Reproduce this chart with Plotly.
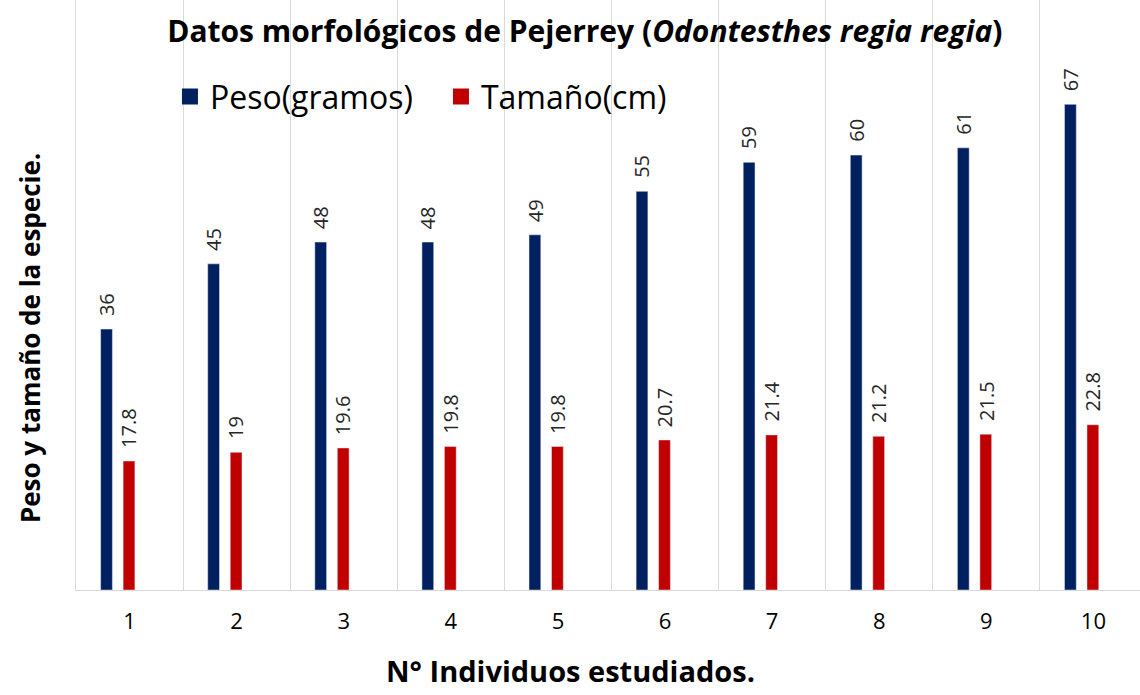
import plotly.graph_objects as go

individuos = ["1", "2", "3", "4", "5", "6", "7", "8", "9", "10"]
peso = [36, 45, 48, 48, 49, 55, 59, 60, 61, 67]
tamano = [17.8, 19, 19.6, 19.8, 19.8, 20.7, 21.4, 21.2, 21.5, 22.8]

FONT = "Open Sans"
BLUE = "#002060"
RED = "#C00000"
BAR_W = 0.11
OFF_PESO = -0.27
OFF_TAM = -0.06

fig = go.Figure()
fig.add_trace(go.Bar(
    x=individuos, y=peso, name="Peso(gramos)", showlegend=False,
    marker=dict(color=BLUE), width=BAR_W, offset=OFF_PESO,
))
fig.add_trace(go.Bar(
    x=individuos, y=tamano, name="Tamaño(cm)", showlegend=False,
    marker=dict(color=RED), width=BAR_W, offset=OFF_TAM,
))
# legend entries (square symbols)
for name, col in [("Peso(gramos)", BLUE), ("Tamaño(cm)", RED)]:
    fig.add_trace(go.Scatter(
        x=[None], y=[None], mode="markers", name=name,
        marker=dict(symbol="square", size=16, color=col),
    ))

annotations = []
for vals, off in [(peso, OFF_PESO), (tamano, OFF_TAM)]:
    for i, v in enumerate(vals):
        annotations.append(dict(
            x=i + off + BAR_W / 2, y=v, xref="x", yref="y",
            text=str(v), showarrow=False, textangle=-90,
            xanchor="center", yanchor="bottom", yshift=11,
            font=dict(family=FONT, size=20, color="#262626"),
        ))
annotations.append(dict(
    text="<b>Peso y tamaño de la especie.</b>", textangle=-90,
    xref="paper", yref="paper", x=-0.0432, y=0.427,
    xanchor="center", yanchor="middle", showarrow=False,
    font=dict(family=FONT, size=26, color="black"),
))
annotations.append(dict(
    text="<b>N° Individuos estudiados.</b>",
    xref="paper", yref="paper", x=0.4643, y=-0.137,
    xanchor="center", yanchor="middle", showarrow=False,
    font=dict(family=FONT, size=29, color="black"),
))

fig.update_layout(
    width=1140, height=695,
    margin=dict(l=76, r=0, t=0, b=105),
    paper_bgcolor="white", plot_bgcolor="white",
    barmode="overlay",
    font=dict(family=FONT, color="black"),
    title=dict(
        text="<b>Datos morfológicos de Pejerrey (<i>Odontesthes regia regia</i>)</b>",
        x=0.513, xref="container", xanchor="center",
        y=0.9545, yref="container", yanchor="middle",
        font=dict(family=FONT, size=30, color="black"),
    ),
    legend=dict(
        orientation="h", x=0.0883, xanchor="left", y=0.836, yanchor="middle",
        font=dict(family=FONT, size=32, color="black"),
        bgcolor="rgba(0,0,0,0)", traceorder="normal", itemwidth=30,
        entrywidth=226, entrywidthmode="pixels",
    ),
    annotations=annotations,
    xaxis=dict(
        type="category", tickson="boundaries", range=[-0.5, 9.435],
        showgrid=True, gridcolor="#d9d9d9", gridwidth=1,
        showline=True, linecolor="#d9d9d9", linewidth=1,
        ticks="", automargin=False, ticklabelstandoff=12,
        tickfont=dict(family=FONT, size=22, color="black"),
    ),
    yaxis=dict(
        range=[0, 81.4], showgrid=False, showticklabels=False, zeroline=False,
        showline=True, linecolor="#d9d9d9", linewidth=1,
        ticks="", automargin=False,
    ),
)

fig.write_html(
    "out.html",
    config={"displayModeBar": False},
    post_script="document.body.style.margin='0';",
)
